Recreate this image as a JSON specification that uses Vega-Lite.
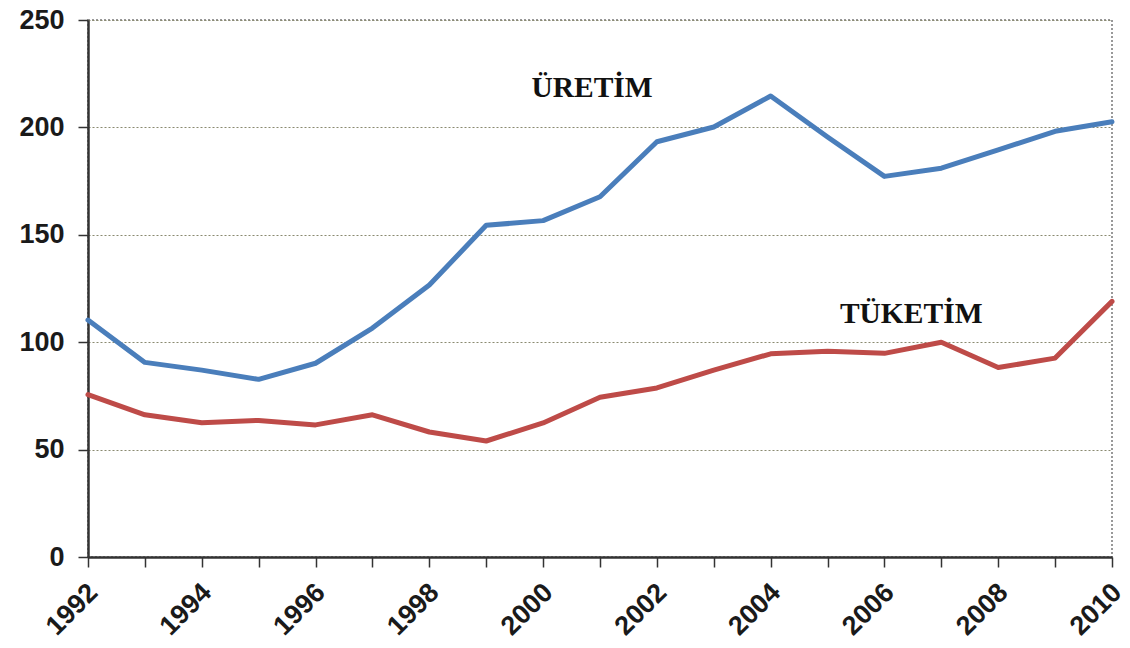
{
  "$schema": "https://vega.github.io/schema/vega-lite/v6.json",
  "width": 1024,
  "height": 537,
  "autosize": {"type": "none"},
  "padding": {"left": 88, "top": 20, "right": 18, "bottom": 91},
  "background": "white",
  "config": {
    "view": {"stroke": "#999", "strokeWidth": 2, "strokeDash": [2, 2]},
    "axis": {"labelFont": "Liberation Sans", "labelFontWeight": "bold", "labelColor": "#1a1a1a"}
  },
  "datasets": {
    "series": [
      {"year": 1992, "series": "ÜRETİM", "value": 110.3},
      {"year": 1993, "series": "ÜRETİM", "value": 90.6},
      {"year": 1994, "series": "ÜRETİM", "value": 87},
      {"year": 1995, "series": "ÜRETİM", "value": 82.7},
      {"year": 1996, "series": "ÜRETİM", "value": 90.2},
      {"year": 1997, "series": "ÜRETİM", "value": 106.6},
      {"year": 1998, "series": "ÜRETİM", "value": 126.6},
      {"year": 1999, "series": "ÜRETİM", "value": 154.4},
      {"year": 2000, "series": "ÜRETİM", "value": 156.6},
      {"year": 2001, "series": "ÜRETİM", "value": 167.7},
      {"year": 2002, "series": "ÜRETİM", "value": 193.3},
      {"year": 2003, "series": "ÜRETİM", "value": 200.2},
      {"year": 2004, "series": "ÜRETİM", "value": 214.6},
      {"year": 2005, "series": "ÜRETİM", "value": 195.5},
      {"year": 2006, "series": "ÜRETİM", "value": 177.2},
      {"year": 2007, "series": "ÜRETİM", "value": 181},
      {"year": 2008, "series": "ÜRETİM", "value": 189.5},
      {"year": 2009, "series": "ÜRETİM", "value": 198.2},
      {"year": 2010, "series": "ÜRETİM", "value": 202.6},
      {"year": 1992, "series": "TÜKETİM", "value": 75.6},
      {"year": 1993, "series": "TÜKETİM", "value": 66.2},
      {"year": 1994, "series": "TÜKETİM", "value": 62.5},
      {"year": 1995, "series": "TÜKETİM", "value": 63.6},
      {"year": 1996, "series": "TÜKETİM", "value": 61.5},
      {"year": 1997, "series": "TÜKETİM", "value": 66.2},
      {"year": 1998, "series": "TÜKETİM", "value": 58.2},
      {"year": 1999, "series": "TÜKETİM", "value": 54},
      {"year": 2000, "series": "TÜKETİM", "value": 62.4},
      {"year": 2001, "series": "TÜKETİM", "value": 74.4},
      {"year": 2002, "series": "TÜKETİM", "value": 78.7},
      {"year": 2003, "series": "TÜKETİM", "value": 87},
      {"year": 2004, "series": "TÜKETİM", "value": 94.6},
      {"year": 2005, "series": "TÜKETİM", "value": 95.8},
      {"year": 2006, "series": "TÜKETİM", "value": 94.8},
      {"year": 2007, "series": "TÜKETİM", "value": 100},
      {"year": 2008, "series": "TÜKETİM", "value": 88.2},
      {"year": 2009, "series": "TÜKETİM", "value": 92.6},
      {"year": 2010, "series": "TÜKETİM", "value": 119}
    ],
    "labels": [
      {"year": 2000.86, "value": 218.3, "text": "ÜRETİM"},
      {"year": 2006.47, "value": 113.1, "text": "TÜKETİM"}
    ]
  },
  "layer": [
    {
      "data": {"name": "series"},
      "mark": {"type": "line", "strokeWidth": 5, "strokeJoin": "round", "strokeCap": "round"},
      "encoding": {
        "x": {
          "field": "year", "type": "quantitative",
          "scale": {"domain": [1992, 2010], "nice": false, "zero": false},
          "axis": {
            "title": null, "grid": false, "format": "d",
            "values": [1992,1993,1994,1995,1996,1997,1998,1999,2000,2001,2002,2003,2004,2005,2006,2007,2008,2009,2010],
            "labelExpr": "datum.value % 2 == 0 ? datum.label : ''",
            "labelFontSize": 27,
            "labelAngle": -45, "labelAlign": "right", "labelBaseline": "middle",
            "labelPadding": 21, "labelOffset": 5, "labelOverlap": false, "labelFlush": false, "labelBound": false,
            "domainColor": "#333", "domainWidth": 2.5,
            "tickColor": "#333", "tickSize": 10, "tickWidth": 1.5
          }
        },
        "y": {
          "field": "value", "type": "quantitative",
          "scale": {"domain": [0, 250], "nice": false},
          "axis": {
            "title": null, "values": [0, 50, 100, 150, 200, 250],
            "labelFontSize": 27,
            "grid": true, "gridColor": "#8a8a70", "gridDash": [2, 2], "gridWidth": 1.2,
            "domainColor": "#333", "domainWidth": 2.5,
            "tickColor": "#333", "tickSize": 10, "tickWidth": 1.5,
            "labelPadding": 14
          }
        },
        "color": {
          "field": "series", "type": "nominal",
          "scale": {"domain": ["ÜRETİM", "TÜKETİM"], "range": ["#4A7EBB", "#BE4B48"]},
          "legend": null
        }
      }
    },
    {
      "data": {"name": "labels"},
      "mark": {"type": "text", "font": "Liberation Serif", "fontWeight": "bold", "fontSize": 29.5, "color": "#111", "align": "center", "baseline": "middle"},
      "encoding": {
        "x": {"field": "year", "type": "quantitative"},
        "y": {"field": "value", "type": "quantitative"},
        "text": {"field": "text"}
      }
    }
  ]
}
